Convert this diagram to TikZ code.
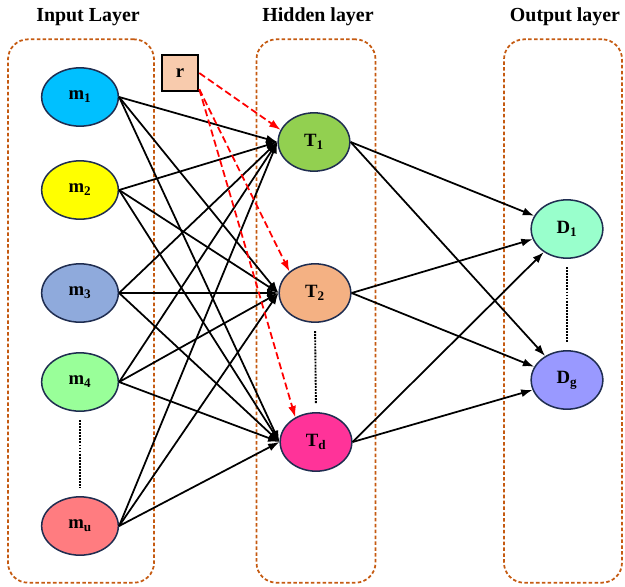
\documentclass[tikz,border=0pt]{standalone}
\usepackage{fontspec}
\setmainfont{Liberation Serif}
\usepackage{tikz}
\usetikzlibrary{arrows.meta,positioning,shapes.geometric}
\definecolor{layerorange}{HTML}{C55A11}
\definecolor{nodenavy}{HTML}{1F2D50}
\definecolor{inA}{HTML}{00C0FF}
\definecolor{inB}{HTML}{FFFF00}
\definecolor{inC}{HTML}{8FAADC}
\definecolor{inD}{HTML}{99FF99}
\definecolor{inU}{HTML}{FF7C80}
\definecolor{hidA}{HTML}{92D050}
\definecolor{hidB}{HTML}{F4B183}
\definecolor{hidD}{HTML}{FF3399}
\definecolor{outA}{HTML}{99FFCC}
\definecolor{outG}{HTML}{9999FF}
\definecolor{biasfill}{HTML}{F8CBAD}
\tikzset{
  neuron/.style={
    ellipse,
    draw=nodenavy,
    line width=1.3pt,
    minimum width=2.3cm,
    minimum height=1.75cm,
    inner sep=0pt,
    font=\fontsize{16}{19}\selectfont\bfseries
  },
  smallneuron/.style={
    neuron,
    minimum width=2.15cm
  },
  biasbox/.style={
    rectangle,
    draw=black,
    fill=biasfill,
    line width=1.6pt,
    minimum size=1.1cm,
    font=\fontsize{16}{19}\selectfont\bfseries
  },
  layerbox/.style={
    rectangle,
    rounded corners=0.6cm,
    draw=layerorange,
    dash pattern=on 3pt off 2pt,
    line width=1.5pt
  },
  layertitle/.style={
    font=\fontsize{17}{20}\selectfont\bfseries
  },
  arrow/.style={
    -{Latex[length=3.4mm,width=2.4mm]},
    line width=1.5pt,
    draw=black
  },
  biasarrow/.style={
    -{Latex[length=3.4mm,width=2.4mm]},
    line width=1.5pt,
    dash pattern=on 6pt off 3pt,
    draw=red
  },
  gapdots/.style={
    densely dotted,
    line width=1.6pt,
    shorten <=7pt,
    shorten >=7pt
  }
}
\begin{document}
\begin{tikzpicture}[x=0.03cm, y=-0.03cm]
\useasboundingbox (0,0) rectangle (625,586);
% layer frames
\node[layerbox, minimum width=4.38cm, minimum height=16.3cm] (inframe) at (81,311) {};
\node[layerbox, minimum width=3.57cm, minimum height=16.3cm] (hidframe) at (316,311) {};
\node[layerbox, minimum width=3.54cm, minimum height=16.3cm] (outframe) at (563,311) {};
\node[layertitle] (intitle) at (88,17) {Input Layer};
\node[layertitle] (hidtitle) at (318,17) {Hidden layer};
\node[layertitle] (outtitle) at (565,17) {Output layer};
% input neurons
\node[neuron, fill=inA] (m1) at (80,97) {m\textsubscript{1}};
\node[neuron, fill=inB] (m2) at (80,190) {m\textsubscript{2}};
\node[neuron, fill=inC] (m3) at (80,293) {m\textsubscript{3}};
\node[neuron, fill=inD] (m4) at (80,382) {m\textsubscript{4}};
\node[neuron, fill=inU] (mu) at (80,526) {m\textsubscript{u}};
% hidden neurons
\node[smallneuron, fill=hidA] (T1) at (314,142) {T\textsubscript{1}};
\node[smallneuron, fill=hidB] (T2) at (315,293) {T\textsubscript{2}};
\node[smallneuron, fill=hidD] (Td) at (316,442) {T\textsubscript{d}};
% output neurons
\node[smallneuron, fill=outA] (D1) at (567,229) {D\textsubscript{1}};
\node[smallneuron, fill=outG] (Dg) at (567,380) {D\textsubscript{g}};
% bias
\node[biasbox] (r) at (180,73) {r};
\draw[gapdots] (m4.south) -- (mu.north);
\draw[gapdots] (T2.south) -- (Td.north);
\draw[gapdots] (D1.south) -- (Dg.north);
\foreach \a in {m1,m2,m3,m4,mu} {
  \foreach \b in {T1,T2,Td} {
    \draw[arrow] (\a.east) -- (\b.west);
  }
}
\foreach \a in {T1,T2,Td} {
  \foreach \b in {D1,Dg} {
    \draw[arrow] (\a.east) -- (\b);
  }
}
\draw[biasarrow] (r.east) -- (T1.160);
\draw[biasarrow] (r.-40) -- (T2.140);
\draw[biasarrow] (r.-40) -- (Td.130);
\end{tikzpicture}
\end{document}
